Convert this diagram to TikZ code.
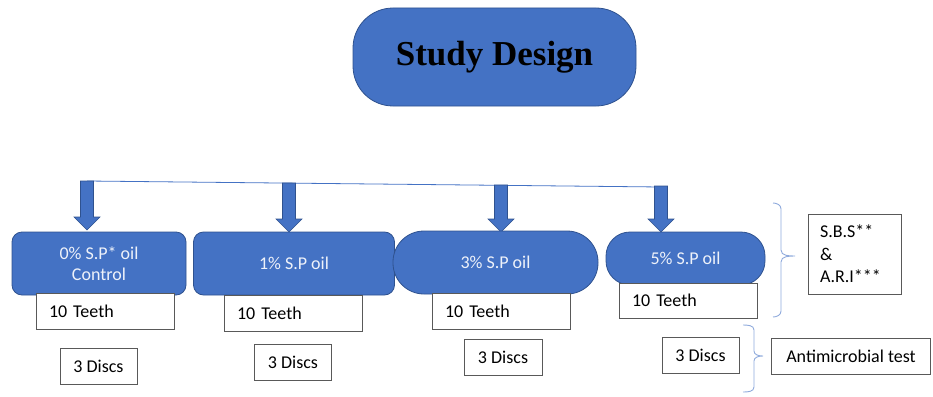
\documentclass[tikz,border=0pt]{standalone}
\usepackage{fontspec}
\setmainfont{Carlito}
\newfontfamily\titlefont{Liberation Serif}
\definecolor{boxblue}{HTML}{4472C4}
\definecolor{boxedge}{HTML}{2F528F}
\definecolor{bracecol}{HTML}{8FAADC}
\definecolor{framecol}{HTML}{595959}
\definecolor{boxtext}{HTML}{EEF2FA}
\newcommand{\blockarrow}[3]{%
  \filldraw[fill=boxblue,draw=boxedge,line width=0.6pt]
    ({#1-6.5},{#2}) -- ({#1+6.5},{#2}) -- ({#1+6.5},{#3-13}) -- ({#1+13},{#3-13})
    -- ({#1},{#3}) -- ({#1-13},{#3-13}) -- ({#1-6.5},{#3-13}) -- cycle;}
\begin{document}
\begin{tikzpicture}[x=1pt,y=-1pt,
  bluebox/.style={draw=boxedge,fill=boxblue,line width=0.8pt,text=boxtext,
    font=\fontsize{18}{21}\selectfont,align=center,inner sep=0pt},
  teethbox/.style={draw=framecol,fill=white,line width=0.8pt,minimum width=138pt,
    minimum height=36pt,text width=112pt,inner xsep=13pt,inner ysep=0pt,align=left,
    font=\fontsize{18}{20}\selectfont},
  discbox/.style={draw=framecol,fill=white,line width=0.8pt,minimum width=77pt,
    minimum height=36pt,inner sep=0pt,font=\fontsize{18}{20}\selectfont},
  bracestyle/.style={draw=bracecol,line width=0.9pt},
]
\useasboundingbox (0,0) rectangle (933,396);

% title
\node[draw=boxedge,fill=boxblue,line width=0.8pt,rounded corners=40pt,
  minimum width=283pt,minimum height=98pt,inner sep=0pt,
  font=\titlefont\bfseries\fontsize{35}{40}\selectfont] (title) at (494.5,57) {Study Design};

% connector line and arrows
\coordinate (a1) at (87,181);
\coordinate (a4) at (661,187);
\draw[boxblue,line width=0.8pt] (a1) -- (a4);
\blockarrow{87}{181}{230}
\blockarrow{289}{183}{232}
\blockarrow{501}{185}{232}
\blockarrow{661}{186}{232}

% group boxes
\node[bluebox,rounded corners=10pt,minimum width=174pt,minimum height=63pt] (g0) at (99,263.5) {0\% S.P* oil\\Control};
\node[bluebox,rounded corners=10pt,minimum width=201pt,minimum height=63pt] (g1) at (294,263.5) {1\% S.P oil};
\node[bluebox,rounded corners=31pt,minimum width=205pt,minimum height=63pt] (g3) at (495.5,262.5) {3\% S.P oil};
\node[bluebox,rounded corners=24pt,minimum width=159pt,minimum height=53pt] (g5) at (685.5,258.5) {5\% S.P oil};

% teeth boxes
\node[teethbox] (t0) at (105,311) {10 Teeth};
\node[teethbox] (t1) at (293,313) {10 Teeth};
\node[teethbox] (t3) at (501,311) {10 Teeth};
\node[teethbox,minimum height=35pt] (t5) at (688,300.5) {10 Teeth};

% disc boxes
\node[discbox] (d0) at (98.5,366) {3 Discs};
\node[discbox] (d1) at (293,362) {3 Discs};
\node[discbox,minimum width=78pt] (d3) at (503,357) {3 Discs};
\node[discbox] (d5) at (700.5,355) {3 Discs};

% braces
\draw[bracestyle] (773,203) to[out=0,in=90] (781,209) -- (781,250)
  to[out=-90,in=180] (795,256) to[out=180,in=90] (781,262) -- (781,311)
  to[out=-90,in=0] (773,317);
\draw[bracestyle] (743,325) to[out=0,in=90] (754,330) -- (754,351)
  to[out=-90,in=180] (763,356) to[out=180,in=90] (754,361) -- (754,387)
  to[out=-90,in=0] (743,392);

% outcome boxes
\node[draw=framecol,line width=0.8pt,minimum width=93pt,minimum height=80pt,
  text width=69pt,inner xsep=12pt,inner ysep=0pt,align=left,
  font=\fontsize{18}{22.5}\selectfont] (sbs) at (854.5,254) {S.B.S**\\\&\\A.R.I***};
\node[draw=framecol,line width=0.8pt,minimum width=159pt,minimum height=36pt,
  inner sep=0pt,font=\fontsize{18}{20}\selectfont] (anti) at (851,356) {Antimicrobial test};
\end{tikzpicture}
\end{document}
